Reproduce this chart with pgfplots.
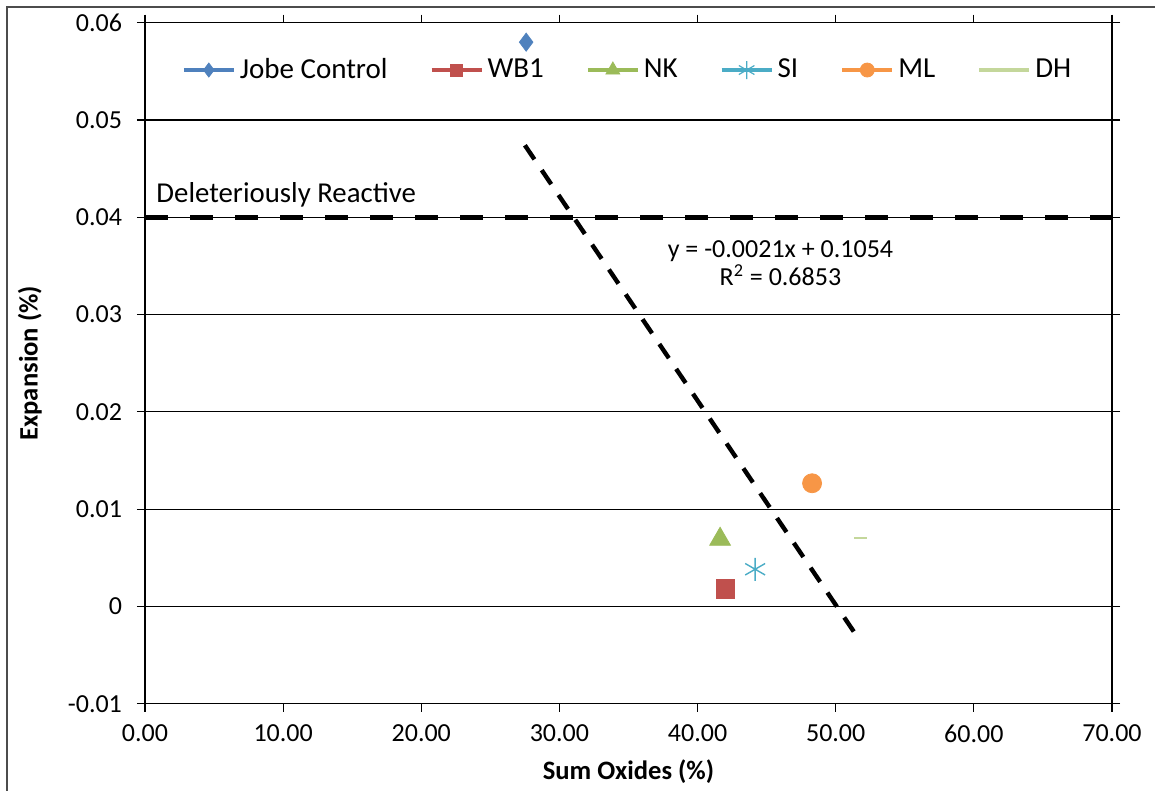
\documentclass[border=0pt]{standalone}
\usepackage{fontspec}
\setmainfont{Carlito}
\usepackage{pgfplots}
\pgfplotsset{compat=1.18}
\definecolor{cJobe}{HTML}{4F81BD}
\definecolor{cWB}{HTML}{C0504D}
\definecolor{cNK}{HTML}{9BBB59}
\definecolor{cSI}{HTML}{4BACC6}
\definecolor{cML}{HTML}{F79646}
\definecolor{cDH}{HTML}{C4D79B}
\begin{document}
\begin{tikzpicture}
\useasboundingbox (-72.5pt,-43.65pt) rectangle (505pt,351.85pt);
\draw[black!70, line width=0.6pt] (-69pt,-43.65pt) -- (-69pt,348.35pt) -- (505pt,348.35pt);
\begin{axis}[
  scale only axis, width=483.5pt, height=340.5pt,
  xmin=0, xmax=70, ymin=-0.01, ymax=0.06,
  xtick={0,10,20,30,40,50,60,70},
  ytick={-0.01,0,0.01,0.02,0.03,0.04,0.05,0.06},
  scaled y ticks=false, scaled x ticks=false,
  ymajorgrids, grid style={black, line width=0.6pt},
  axis line style={black, line width=0.6pt},
  tick align=outside, major tick length=4pt, tick style={black, line width=0.6pt},
  xticklabel style={/pgf/number format/fixed, /pgf/number format/fixed zerofill, /pgf/number format/precision=2, yshift=-3pt},
  yticklabel style={/pgf/number format/fixed, /pgf/number format/precision=2, xshift=-4pt},
  ticklabel style={font=\fontsize{13}{15}\selectfont},
  /pgf/number format/assume math mode=true,
  xlabel={Sum Oxides (\%)}, ylabel={Expansion (\%)},
  label style={font=\bfseries\fontsize{13.3}{15}\selectfont},
  xlabel style={at={(axis description cs:0.5,-0.0999)}, anchor=center},
  ylabel style={at={(axis description cs:-0.119,0.5)}, anchor=center},
  legend columns=6,
  legend style={draw=none, fill=none, at={(axis description cs:0.5,0.9305)}, anchor=center,
    font=\fontsize{14.5}{16}\selectfont,
    /tikz/every even column/.append style={column sep=19pt}},
  legend cell align=left,
  legend image code/.code={\draw[mark repeat=2,mark phase=2,#1] plot coordinates {(0pt,0pt) (12.5pt,0pt) (25pt,0pt)};},
]
% reference line and trend line
\addplot[forget plot, black, line width=2.5pt, dash pattern=on 11.5pt off 11pt] coordinates {(0,0.04) (70,0.04)};
\addplot[forget plot, black, line width=2.2pt, dash pattern=on 8.5pt off 6.5pt] coordinates {(27.5,0.0474) (51.6,-0.0032)};
% data points
\addplot[forget plot, only marks, mark=diamond*, mark size=4.5pt, color=cJobe] coordinates {(27.59,0.0580)};
\addplot[forget plot, only marks, mark=square*, mark size=4.7pt, color=cWB] coordinates {(42.02,0.00177)};
\addplot[forget plot, only marks, mark=triangle*, mark size=6pt, color=cNK] coordinates {(41.63,0.0069)};
\addplot[forget plot, only marks, mark=asterisk, mark size=5.75pt, color=cSI, mark options={line width=0.7pt}] coordinates {(44.17,0.00382)};
\addplot[forget plot, only marks, mark=*, mark size=4.75pt, color=cML] coordinates {(48.29,0.01266)};
\addplot[forget plot, only marks, mark=-, mark size=3.2pt, color=cDH, mark options={line width=1pt}] coordinates {(51.77,0.00707)};
% legend
\addlegendimage{color=cJobe, line width=2pt, mark=diamond*, mark size=3.5pt, mark options={solid, line width=0.4pt}}
\addlegendentry{Jobe Control}
\addlegendimage{color=cWB, line width=2pt, mark=square*, mark size=3pt, mark options={solid, line width=0.4pt}}
\addlegendentry{WB1}
\addlegendimage{color=cNK, line width=2pt, mark=triangle*, mark size=4pt, mark options={solid, line width=0.4pt}}
\addlegendentry{NK}
\addlegendimage{color=cSI, line width=2pt, mark=asterisk, mark size=4.5pt, mark options={solid, line width=0.6pt}}
\addlegendentry{SI}
\addlegendimage{color=cML, line width=2pt, mark=*, mark size=3.5pt, mark options={solid, line width=0.4pt}}
\addlegendentry{ML}
\addlegendimage{color=cDH, line width=2pt}
\addlegendentry{DH}
% annotations
\node[anchor=base west, font=\fontsize{14.4}{16}\selectfont, inner sep=0pt] at (axis cs:0.8,0.0415) {Deleteriously Reactive};
\node[anchor=base, font=\fontsize{13}{15}\selectfont, inner sep=0pt] at (axis cs:46.0,0.0359) {y = -0.0021x + 0.1054};
\node[anchor=base, font=\fontsize{13}{15}\selectfont, inner sep=0pt] at (axis cs:46.0,0.0330) {R\textsuperscript{2} = 0.6853};
\end{axis}
\end{tikzpicture}
\end{document}
